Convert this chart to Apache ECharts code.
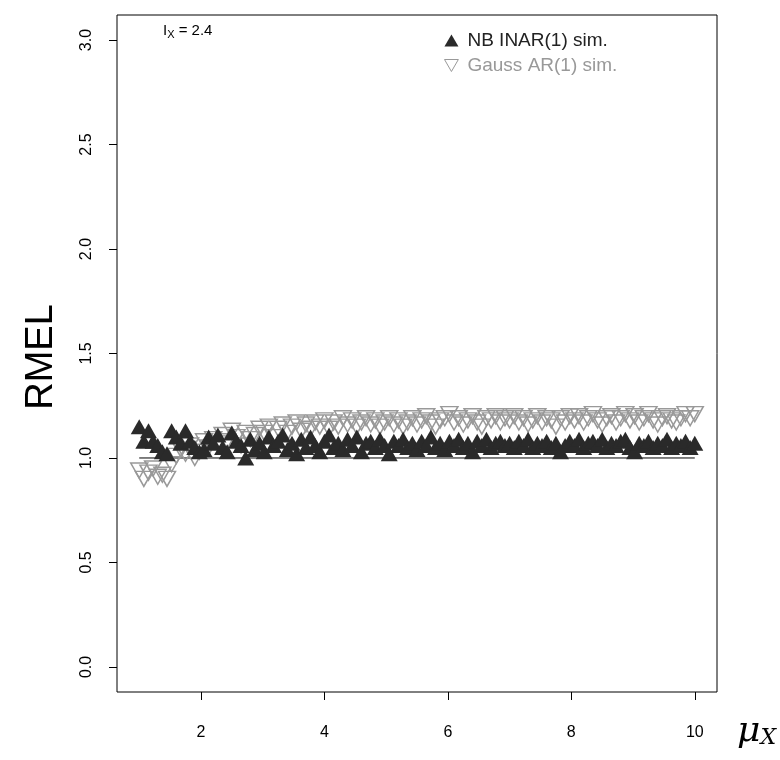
<!DOCTYPE html>
<html>
<head>
<meta charset="utf-8">
<script src="https://cdn.jsdelivr.net/npm/echarts@6/dist/echarts.min.js"></script>
<style>html,body{margin:0;padding:0;background:#fff}#c{width:780px;height:760px}</style>
</head>
<body>
<div id="c"></div>
<script>
const mu = [
  1, 1.075, 1.15, 1.225, 1.3, 1.375, 1.45, 1.525, 1.6, 1.675, 1.75, 1.825, 1.9, 1.975,
  2.05, 2.125, 2.2, 2.275, 2.35, 2.425, 2.5, 2.575, 2.65, 2.725, 2.8, 2.875, 2.95,
  3.025, 3.1, 3.175, 3.25, 3.325, 3.4, 3.475, 3.55, 3.625, 3.7, 3.775, 3.85, 3.925,
  4, 4.075, 4.15, 4.225, 4.3, 4.375, 4.45, 4.525, 4.6, 4.675, 4.75, 4.825, 4.9, 4.975,
  5.05, 5.125, 5.2, 5.275, 5.35, 5.425, 5.5, 5.575, 5.65, 5.725, 5.8, 5.875, 5.95,
  6.025, 6.1, 6.175, 6.25, 6.325, 6.4, 6.475, 6.55, 6.625, 6.7, 6.775, 6.85, 6.925,
  7, 7.075, 7.15, 7.225, 7.3, 7.375, 7.45, 7.525, 7.6, 7.675, 7.75, 7.825, 7.9, 7.975,
  8.05, 8.125, 8.2, 8.275, 8.35, 8.425, 8.5, 8.575, 8.65, 8.725, 8.8, 8.875, 8.95,
  9.025, 9.1, 9.175, 9.25, 9.325, 9.4, 9.475, 9.55, 9.625, 9.7, 9.775, 9.85, 9.925, 10
];
const nbInar = [
  1.15, 1.08, 1.13, 1.08, 1.06, 1.03, 1.02, 1.13, 1.10, 1.07, 1.13, 1.08, 1.05, 1.03,
  1.04, 1.10, 1.07, 1.11, 1.05, 1.03, 1.12, 1.08, 1.06, 1.00, 1.09, 1.04, 1.07,
  1.03, 1.10, 1.06, 1.08, 1.11, 1.04, 1.07, 1.02, 1.09, 1.05, 1.10, 1.06, 1.03,
  1.08, 1.11, 1.05, 1.07, 1.04, 1.09, 1.06, 1.10, 1.03, 1.07, 1.08, 1.05, 1.09, 1.06,
  1.02, 1.08, 1.06, 1.09, 1.05, 1.07, 1.04, 1.08, 1.06, 1.10, 1.05, 1.07, 1.04,
  1.08, 1.06, 1.09, 1.05, 1.07, 1.03, 1.08, 1.06, 1.09, 1.05, 1.07, 1.08, 1.06,
  1.07, 1.05, 1.08, 1.06, 1.09, 1.05, 1.07, 1.06, 1.08, 1.05, 1.07, 1.03, 1.06, 1.08,
  1.06, 1.09, 1.05, 1.07, 1.08, 1.06, 1.09, 1.05, 1.07, 1.06, 1.08, 1.09, 1.05,
  1.03, 1.07, 1.06, 1.08, 1.05, 1.07, 1.06, 1.09, 1.05, 1.07, 1.06, 1.08, 1.05, 1.07
];
const gaussAr = [
  0.94, 0.90, 0.93, 0.95, 0.91, 0.92, 0.90, 0.97, 1.01, 1.04, 1.02, 1.06, 1.00, 1.03,
  1.08, 1.05, 1.09, 1.07, 1.11, 1.08, 1.13, 1.10, 1.06, 1.12, 1.09, 1.11, 1.14,
  1.12, 1.15, 1.10, 1.14, 1.16, 1.12, 1.15, 1.17, 1.13, 1.16, 1.14, 1.17, 1.15,
  1.18, 1.14, 1.17, 1.15, 1.19, 1.16, 1.18, 1.15, 1.17, 1.19, 1.16, 1.18, 1.15, 1.17,
  1.19, 1.16, 1.18, 1.15, 1.17, 1.19, 1.16, 1.18, 1.20, 1.17, 1.15, 1.18, 1.19,
  1.21, 1.17, 1.19, 1.16, 1.18, 1.20, 1.17, 1.15, 1.19, 1.18, 1.20, 1.17, 1.19,
  1.18, 1.20, 1.17, 1.19, 1.16, 1.18, 1.20, 1.17, 1.19, 1.18, 1.15, 1.19, 1.17, 1.20,
  1.18, 1.20, 1.17, 1.19, 1.21, 1.18, 1.16, 1.19, 1.20, 1.17, 1.19, 1.21, 1.18,
  1.20, 1.17, 1.19, 1.21, 1.18, 1.16, 1.19, 1.20, 1.18, 1.17, 1.19, 1.21, 1.19, 1.21
];
const refLineX = [1, 10];
const refLineY = [1, 1];
const xTicks = [2, 4, 6, 8, 10];
const yTicks = [0, 0.5, 1, 1.5, 2, 2.5, 3];
const seriesNames = ['NB INAR(1) sim.', 'Gauss AR(1) sim.'];
const annotation = { label: 'I', sub: 'X', value: ' = 2.4' };

const zip = (xs, ys) => xs.map((x, i) => [x, ys[i]]);
const FONT = '"Liberation Sans", Arial, Helvetica, sans-serif';
const chart = echarts.init(document.getElementById('c'), null, { renderer: 'canvas' });
const downTri = 'path://M0,0 L20,0 L10,17.3 Z';

chart.setOption({
  animation: false,
  backgroundColor: '#ffffff',
  grid: { left: 117, top: 15, width: 600, height: 677, show: true, borderColor: '#000', borderWidth: 1, backgroundColor: 'transparent' },
  xAxis: {
    type: 'value', min: 0.64, max: 10.36,
    axisLine: { show: false, onZero: false },
    splitLine: { show: false },
    axisTick: { show: true, inside: false, length: 8, customValues: xTicks, lineStyle: { color: '#000', width: 1 } },
    axisLabel: { customValues: xTicks, margin: 33, color: '#000', fontSize: 16, fontFamily: FONT }
  },
  yAxis: {
    type: 'value', min: -0.12, max: 3.12,
    axisLine: { show: false, onZero: false },
    splitLine: { show: false },
    axisTick: { show: true, inside: false, length: 8, customValues: yTicks, lineStyle: { color: '#000', width: 1 } },
    axisLabel: { customValues: yTicks, margin: 22, rotate: 90, color: '#000', fontSize: 16, fontFamily: FONT,
      formatter: v => v.toFixed(1) }
  },
  legend: {
    orient: 'vertical', left: 439, top: 26, itemWidth: 14, itemHeight: 12, itemGap: 6,
    textStyle: { fontSize: 19, fontFamily: FONT, padding: [0, 0, 0, 4] },
    data: [
      { name: seriesNames[0], icon: 'triangle', textStyle: { color: '#222' } },
      { name: seriesNames[1], icon: downTri, textStyle: { color: '#999' }, itemStyle: { borderWidth: 1 } }
    ]
  },
  series: [
    {
      name: 'ref', type: 'line', data: zip(refLineX, refLineY), symbol: 'none', silent: true,
      lineStyle: { color: '#000', width: 1 }, z: 1
    },
    {
      name: seriesNames[1], type: 'scatter', data: zip(mu, gaussAr),
      symbol: downTri, symbolSize: [17, 15], z: 2,
      itemStyle: { color: 'rgba(0,0,0,0)', borderColor: '#999', borderWidth: 1.5, opacity: 1 }
    },
    {
      name: seriesNames[0], type: 'scatter', data: zip(mu, nbInar),
      symbol: 'triangle', symbolSize: [17, 15], z: 3,
      itemStyle: { color: '#2a2a2a', opacity: 1 }
    }
  ],
  graphic: [
    { type: 'text', left: 163, top: 23, style: {
      text: '{a|' + annotation.label + '}{b|' + annotation.sub + '}{a|' + annotation.value + '}',
      rich: { a: { fontSize: 15, fontFamily: FONT, fill: '#000' }, b: { fontSize: 11, fontFamily: FONT, fill: '#000', padding: [8, 0, 0, 0] } }
    } },
    { type: 'text', x: 42, y: 357, rotation: Math.PI / 2, style: {
      text: 'RMEL', fontSize: 38, fontFamily: FONT, fill: '#000', align: 'center', verticalAlign: 'middle'
    } },
    { type: 'text', left: 737, top: 714, style: {
      text: '{m|μ}{x|X}',
      rich: { m: { fontSize: 36, fontStyle: 'italic', fontFamily: '"DejaVu Serif", serif', fill: '#000' },
              x: { fontSize: 22, fontStyle: 'italic', fontFamily: '"DejaVu Serif", serif', fill: '#000', padding: [12, 0, 0, 0] } }
    } }
  ]
});
</script>
</body>
</html>
